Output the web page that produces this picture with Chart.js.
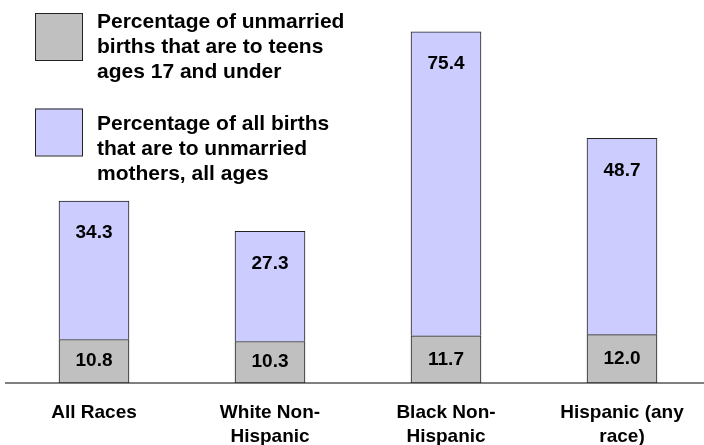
<!DOCTYPE html>
<html>
<head>
<meta charset="utf-8">
<script src="https://cdn.jsdelivr.net/npm/chart.js@4.4.1/dist/chart.umd.min.js"></script>
<style>
  html, body { margin: 0; padding: 0; overflow: hidden; background: #fff; }
  #wrap { position: relative; width: 710px; height: 445px; }
</style>
</head>
<body>
<div id="wrap"><canvas id="c"></canvas></div>
<script>
// ---- data ----
const categories = [["All Races"], ["White Non-", "Hispanic"], ["Black Non-", "Hispanic"], ["Hispanic (any", "race)"]];
const teenShare = [10.8, 10.3, 11.7, 12.0];          // % of unmarried births to teens 17 and under
const unmarriedShare = [34.3, 27.3, 75.4, 48.7];     // % of all births to unmarried mothers
const teenLegend = ["Percentage of unmarried", "births that are to teens", "ages 17 and under"];
const unmarriedLegend = ["Percentage of all births", "that are to unmarried", "mothers, all ages"];
const yMin = 0;
const yMax = 95;

const FONT = '"Liberation Sans", Arial, Helvetica, sans-serif';
const GREY = '#C0C0C0';
const PURPLE = '#CCCCFF';
const EDGE = '#222222';

const valueLabels = {
  id: 'valueLabels',
  afterDatasetsDraw(chart) {
    const ctx = chart.ctx;
    ctx.save();
    ctx.font = 'bold 19px ' + FONT;
    ctx.fillStyle = '#000';
    ctx.textAlign = 'center';
    ctx.textBaseline = 'middle';
    const m0 = chart.getDatasetMeta(0);
    m0.data.forEach((el, i) => {
      ctx.fillText(teenShare[i].toFixed(1), el.x, (el.y + el.base) / 2);
    });
    const m1 = chart.getDatasetMeta(1);
    m1.data.forEach((el, i) => {
      ctx.fillText(unmarriedShare[i].toFixed(1), el.x, el.y + 32);
    });
    ctx.restore();
  }
};

const boxLegend = {
  id: 'boxLegend',
  afterDraw(chart) {
    const ctx = chart.ctx;
    const items = [
      { lines: teenLegend, color: GREY, boxTop: 13, baseline: 28 },
      { lines: unmarriedLegend, color: PURPLE, boxTop: 108.5, baseline: 130 }
    ];
    ctx.save();
    items.forEach(it => {
      ctx.fillStyle = it.color;
      ctx.fillRect(35, it.boxTop, 47, 47);
      ctx.strokeStyle = EDGE;
      ctx.lineWidth = 1;
      ctx.strokeRect(35.5, it.boxTop + 0.5, 47, 47);
      ctx.fillStyle = '#000';
      ctx.font = 'bold 21px ' + FONT;
      ctx.textAlign = 'left';
      ctx.textBaseline = 'alphabetic';
      it.lines.forEach((t, k) => ctx.fillText(t, 97, it.baseline + k * 25));
    });
    ctx.restore();
  }
};

new Chart(document.getElementById('c'), {
  type: 'bar',
  data: {
    labels: categories,
    datasets: [
      {
        label: teenLegend.join(' '),
        data: teenShare,
        backgroundColor: GREY,
        borderColor: EDGE,
        borderWidth: 1,
        borderSkipped: false,
        barThickness: 70
      },
      {
        label: unmarriedLegend.join(' '),
        data: unmarriedShare,
        backgroundColor: PURPLE,
        borderColor: EDGE,
        borderWidth: 1,
        borderSkipped: 'bottom',
        barThickness: 70
      }
    ]
  },
  options: {
    responsive: true,
    maintainAspectRatio: false,
    animation: false,
    layout: { padding: { left: 6, right: 0, top: 0, bottom: 0 } },
    plugins: { legend: { display: false }, tooltip: { enabled: false } },
    scales: {
      x: {
        stacked: true,
        grid: { display: false, drawTicks: false },
        border: { display: true, color: '#808080', width: 2 },
        ticks: {
          color: '#000',
          padding: 18,
          maxRotation: 0,
          autoSkip: false,
          font: { family: FONT, size: 19, weight: 'bold', lineHeight: 1.24 }
        },
        afterFit(scale) { scale.height = 62; }
      },
      y: {
        stacked: true,
        display: false,
        min: yMin,
        max: yMax
      }
    }
  },
  plugins: [valueLabels, boxLegend]
});
</script>
</body>
</html>
